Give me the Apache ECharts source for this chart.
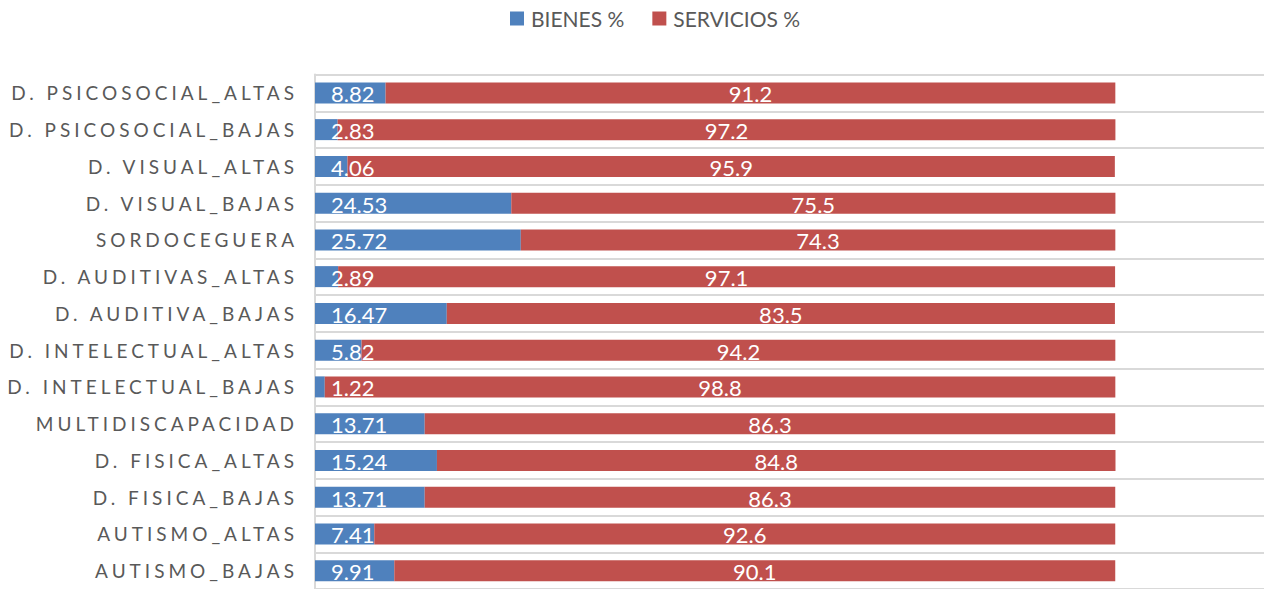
<!DOCTYPE html>
<html>
<head>
<meta charset="utf-8">
<script src="https://cdn.jsdelivr.net/npm/echarts@6/dist/echarts.min.js"></script>
<style>
html,body{margin:0;padding:0;background:#fff;}
#chart{width:1264px;height:589px;}
text[style*="AxisLato"], text[font-family*="AxisLato"]{letter-spacing:4px;}
</style>
</head>
<body>
<div id="chart"></div>
<script>
const categories = ["D. PSICOSOCIAL_ALTAS","D. PSICOSOCIAL_BAJAS","D. VISUAL_ALTAS","D. VISUAL_BAJAS","SORDOCEGUERA","D. AUDITIVAS_ALTAS","D. AUDITIVA_BAJAS","D. INTELECTUAL_ALTAS","D. INTELECTUAL_BAJAS","MULTIDISCAPACIDAD","D. FISICA_ALTAS","D. FISICA_BAJAS","AUTISMO_ALTAS","AUTISMO_BAJAS"];
const bienes = [8.82, 2.83, 4.06, 24.53, 25.72, 2.89, 16.47, 5.82, 1.22, 13.71, 15.24, 13.71, 7.41, 9.91];
const servicios = [91.2, 97.2, 95.9, 75.5, 74.3, 97.1, 83.5, 94.2, 98.8, 86.3, 84.8, 86.3, 92.6, 90.1];
const seriesNames = ["BIENES %", "SERVICIOS %"];

const chart = echarts.init(document.getElementById('chart'), null, {renderer: 'svg'});
chart.setOption({
  animation: false,
  legend: {
    left: 505, top: 3,
    itemWidth: 14, itemHeight: 14, itemGap: 28,
    icon: 'rect',
    textStyle: {fontFamily: 'Lato', fontSize: 21, color: '#595959', padding: [0, 0, 0, 2]},
    data: seriesNames
  },
  grid: {left: 315, right: 0, top: 74.5, height: 522},
  xAxis: {type: 'value', min: 0, max: 118.6, show: false},
  yAxis: {
    type: 'category', inverse: true, data: categories,
    axisLine: {show: true, lineStyle: {color: '#d9d9d9', width: 2}},
    axisTick: {show: false},
    splitLine: {show: true, lineStyle: {color: '#d9d9d9', width: 2}},
    axisLabel: {fontFamily: "AxisLato, Lato", fontSize: 19, color: '#595959', margin: 17}
  },
  series: [
    {
      name: seriesNames[0], type: 'bar', stack: 'total', data: bienes, barWidth: 21,
      itemStyle: {color: '#4f81bd'},
      label: {show: true, position: 'insideLeft', distance: 16, color: '#fff', fontFamily: 'Lato', fontSize: 22, offset: [0, 1]}
    },
    {
      name: seriesNames[1], type: 'bar', stack: 'total', data: servicios, barWidth: 21,
      itemStyle: {color: '#c0504d'},
      label: {show: true, position: 'inside', color: '#fff', fontFamily: 'Lato', fontSize: 22, offset: [0, 1]}
    }
  ]
});
</script>
</body>
</html>
